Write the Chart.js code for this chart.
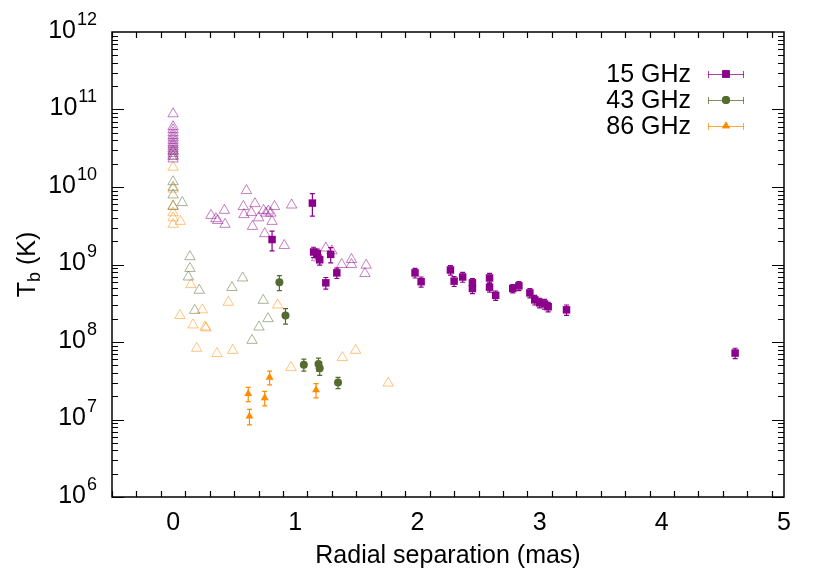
<!DOCTYPE html>
<html>
<head>
<meta charset="utf-8">
<script src="https://cdn.jsdelivr.net/npm/chart.js@4.4.0/dist/chart.umd.min.js"></script>
<style>
html,body{margin:0;padding:0;background:#fff;}
#wrap{width:830px;height:581px;}
</style>
</head>
<body>
<div id="wrap"><canvas id="c" width="830" height="581"></canvas></div>
<script>
// ---- data (x in mas, Tb in K) ----
const x15 = [1.14, 0.81, 1.15, 1.18, 1.20, 1.29, 1.25, 1.34, 1.98, 2.03, 2.27, 2.30, 2.37, 2.45, 2.45, 2.59, 2.59, 2.64, 2.78, 2.83, 2.92, 2.96, 3.00, 3.04, 3.07, 3.22, 4.60];
const y15 = [6.2e9, 2.1e9, 1.45e9, 1.38e9, 1.15e9, 1.35e9, 5.8e8, 7.8e8, 7.8e8, 6.0e8, 8.5e8, 6.1e8, 6.9e8, 5.8e8, 4.9e8, 6.7e8, 5.1e8, 4.0e8, 4.9e8, 5.3e8, 4.3e8, 3.5e8, 3.2e8, 3.1e8, 2.85e8, 2.6e8, 7.2e7];
const e15 = [2.0e9, 6.0e8, 2.2e8, 2.0e8, 1.7e8, 3.0e8, 1.0e8, 1.2e8, 1.1e8, 0.9e8, 1.2e8, 0.9e8, 1.0e8, 0.8e8, 0.7e8, 1.0e8, 0.7e8, 0.55e8, 0.6e8, 0.7e8, 0.6e8, 0.5e8, 0.45e8, 0.45e8, 0.4e8, 0.4e8, 1.1e7];

const x43 = [0.87, 0.92, 1.07, 1.19, 1.20, 1.35];
const y43 = [5.9e8, 2.2e8, 5.1e7, 5.2e7, 4.6e7, 3.0e7];
const e43 = [1.3e8, 0.5e8, 0.9e7, 1.0e7, 0.9e7, 0.5e7];

const x86 = [0.79, 0.615, 0.75, 1.17, 0.625];
const y86 = [3.5e7, 2.15e7, 1.9e7, 2.4e7, 1.1e7];
const e86 = [0.7e7, 0.45e7, 0.4e7, 0.5e7, 0.25e7];

// open triangles (earlier / other measurements)
const xo15 = [0,0,0,0,0,0,0,0,0,0,0,0,0,0,0, 0.31,0.35,0.365,0.42,0.425,0.60,0.575,0.67,0.58,0.64,0.70,0.74,0.76,0.78,0.80,0.83,0.81,0.65,0.75,0.91,0.97,1.25,1.30,1.175,1.38,1.46,1.46,1.58,1.57];
const yo15 = [8.8e10,6.0e10,5.5e10,5.0e10,4.6e10,4.3e10,4.0e10,3.7e10,3.5e10,3.3e10,3.1e10,2.9e10,2.7e10,2.5e10,2.3e10, 4.3e9,3.9e9,3.7e9,5.0e9,3.3e9,9.0e9,5.6e9,6.1e9,4.4e9,4.7e9,4.0e9,5.0e9,4.6e9,4.9e9,4.6e9,5.6e9,3.6e9,3.1e9,2.5e9,1.76e9,5.85e9,1.63e9,1.5e9,1.22e9,1.0e9,1.16e9,1.0e9,9.8e8,7.65e8];

const xo43 = [0,0,0,0,0,0, 0.075,0.138,0.138,0.125,0.214,0.177,0.569,0.482,0.738,0.777,0.703,0.646];
const yo43 = [2.9e10,2.5e10,1.17e10,9.9e9,7.9e9,5.6e9, 6.3e9,1.26e9,8.9e8,6.9e8,4.65e8,2.56e8,6.7e8,5.05e8,3.45e8,2.0e8,1.56e8,1.05e8];

const xo86 = [0,0,0,0,0,0, 0.06,0.146,0.056,0.239,0.163,0.261,0.27,0.452,0.856,0.193,0.359,0.488,0.965,1.385,1.494,1.761];
const yo86 = [1.8e10,9.4e9,5.7e9,4.65e9,4.0e9,3.3e9, 3.6e9,5.5e8,2.2e8,2.6e8,1.66e8,1.56e8,1.52e8,3.25e8,3.0e8,8.3e7,7.1e7,7.8e7,4.7e7,6.3e7,7.8e7,2.95e7];

const xTicks = [0, 1, 2, 3, 4, 5];
const yExps = [6, 7, 8, 9, 10, 11, 12];
const seriesLabels = ['15 GHz', '43 GHz', '86 GHz'];

// ---- styles ----
const C15 = '#8b008b', C43 = '#556b2f', C86 = '#ff8c00';
const L15 = 'rgba(139,0,139,0.5)', L43 = 'rgba(85,107,47,0.5)', L86 = 'rgba(255,140,0,0.5)';
const FONT = '"Liberation Sans", Arial, Helvetica, sans-serif';
const FS = 25, FSS = 18;

function pts(xs, ys, es) {
  return xs.map((x, i) => es ? {x: x, y: ys[i], e: es[i]} : {x: x, y: ys[i]});
}

const datasets = [
  {label: seriesLabels[0], data: pts(x15, y15, e15), pointStyle: 'rect', pointRadius: 5.3, backgroundColor: C15, borderColor: C15, borderWidth: 0, errColor: C15},
  {label: seriesLabels[1], data: pts(x43, y43, e43), pointStyle: 'circle', pointRadius: 4, backgroundColor: C43, borderColor: C43, borderWidth: 0, errColor: C43},
  {label: seriesLabels[2], data: pts(x86, y86, e86), pointStyle: 'triangle', pointRadius: 4.6, backgroundColor: C86, borderColor: C86, borderWidth: 0, errColor: C86},
  {label: 'o15', data: pts(xo15, yo15), pointStyle: 'triangle', pointRadius: 6, backgroundColor: 'rgba(0,0,0,0)', borderColor: L15, borderWidth: 1},
  {label: 'o43', data: pts(xo43, yo43), pointStyle: 'triangle', pointRadius: 6, backgroundColor: 'rgba(0,0,0,0)', borderColor: L43, borderWidth: 1},
  {label: 'o86', data: pts(xo86, yo86), pointStyle: 'triangle', pointRadius: 6, backgroundColor: 'rgba(0,0,0,0)', borderColor: L86, borderWidth: 1}
];
datasets.forEach(d => { d.showLine = false; d.pointHoverRadius = d.pointRadius; });

const errorBars = {
  id: 'errorBars',
  beforeDatasetsDraw(chart) {
    const ctx = chart.ctx, xs = chart.scales.x, ys = chart.scales.y;
    ctx.save();
    chart.data.datasets.forEach(ds => {
      if (!ds.errColor) return;
      ctx.strokeStyle = ds.errColor;
      ctx.lineWidth = 1.2;
      ds.data.forEach(p => {
        const px = xs.getPixelForValue(p.x);
        const top = ys.getPixelForValue(p.y + p.e);
        const bot = ys.getPixelForValue(p.y - p.e);
        ctx.beginPath();
        ctx.moveTo(px, top); ctx.lineTo(px, bot);
        ctx.moveTo(px - 2.5, top); ctx.lineTo(px + 2.5, top);
        ctx.moveTo(px - 2.5, bot); ctx.lineTo(px + 2.5, bot);
        ctx.stroke();
      });
    });
    ctx.restore();
  }
};

const frame = {
  id: 'frame',
  afterDraw(chart) {
    const ctx = chart.ctx, a = chart.chartArea, xs = chart.scales.x, ys = chart.scales.y;
    ctx.save();
    ctx.strokeStyle = '#000';
    ctx.lineWidth = 1.5;
    ctx.strokeRect(a.left, a.top, a.right - a.left, a.bottom - a.top);
    ctx.lineWidth = 1.2;
    const MAJ = 12, MIN = 6;
    ctx.beginPath();
    for (let k = -5; k <= 50; k += 2) {
      const v = k / 10;
      const px = Math.round(xs.getPixelForValue(v)) + 0.5;
      const len = (k % 10 === 0) ? MAJ : MIN;
      ctx.moveTo(px, a.bottom); ctx.lineTo(px, a.bottom - len);
      ctx.moveTo(px, a.top); ctx.lineTo(px, a.top + len);
    }
    for (let e = 6; e < 12; e++) {
      for (let m = 1; m <= 9; m++) {
        const py = Math.round(ys.getPixelForValue(m * Math.pow(10, e))) + 0.5;
        const len = m === 1 ? MAJ : MIN;
        ctx.moveTo(a.left, py); ctx.lineTo(a.left + len, py);
        ctx.moveTo(a.right, py); ctx.lineTo(a.right - len, py);
      }
    }
    ctx.stroke();

    ctx.fillStyle = '#000';
    ctx.font = FS + 'px ' + FONT;
    ctx.textAlign = 'center';
    ctx.textBaseline = 'middle';
    xTicks.forEach(v => ctx.fillText(String(v), xs.getPixelForValue(v), a.bottom + 26));
    yExps.forEach(e => {
      const py = ys.getPixelForValue(Math.pow(10, e));
      ctx.font = FSS + 'px ' + FONT;
      const ew = ctx.measureText(String(e)).width;
      ctx.textAlign = 'left';
      ctx.textBaseline = 'middle';
      const right = a.left - 15;
      ctx.fillText(String(e), right - ew, py - 12);
      ctx.font = FS + 'px ' + FONT;
      ctx.textAlign = 'right';
      ctx.fillText('10', right - ew - 1, py - 1);
    });
    ctx.textAlign = 'center';
    ctx.font = FS + 'px ' + FONT;
    ctx.fillText('Radial separation (mas)', (a.left + a.right) / 2, a.bottom + 59);
    ctx.save();
    ctx.translate(28, (a.top + a.bottom) / 2);
    ctx.rotate(-Math.PI / 2);
    ctx.font = FS + 'px ' + FONT;
    const wT = ctx.measureText('T').width, wK = ctx.measureText(' (K)').width;
    ctx.font = FSS + 'px ' + FONT;
    const wb = ctx.measureText('b').width;
    const tot = wT + wb + wK;
    let cx = -tot / 2;
    ctx.textAlign = 'left';
    ctx.font = FS + 'px ' + FONT;
    ctx.fillText('T', cx, 0); cx += wT;
    ctx.font = FSS + 'px ' + FONT;
    ctx.fillText('b', cx, 7); cx += wb;
    ctx.font = FS + 'px ' + FONT;
    ctx.fillText(' (K)', cx, 0);
    ctx.restore();

    const cols = [C15, C43, C86];
    const styles = ['rect', 'circle', 'triangle'];
    const radii = [5.3, 4, 4.6];
    const rowsY = [74, 100, 126];
    seriesLabels.forEach((lab, i) => {
      const y = rowsY[i];
      ctx.font = FS + 'px ' + FONT;
      ctx.textAlign = 'right';
      ctx.textBaseline = 'middle';
      ctx.fillStyle = '#000';
      ctx.fillText(lab, 691, y + 1);
      ctx.strokeStyle = cols[i];
      ctx.lineWidth = 1;
      ctx.globalAlpha = 0.75;
      ctx.beginPath();
      ctx.moveTo(708, y + 0.5); ctx.lineTo(744, y + 0.5);
      ctx.moveTo(708.5, y - 3); ctx.lineTo(708.5, y + 4);
      ctx.moveTo(743.5, y - 3); ctx.lineTo(743.5, y + 4);
      ctx.stroke();
      ctx.globalAlpha = 1;
      ctx.fillStyle = cols[i];
      Chart.helpers.drawPoint(ctx, {pointStyle: styles[i], radius: radii[i], borderWidth: 0}, 726, y);
      ctx.fill();
    });
    ctx.restore();
  }
};

new Chart(document.getElementById('c'), {
  type: 'scatter',
  data: {datasets: datasets},
  options: {
    responsive: false,
    animation: false,
    devicePixelRatio: 1,
    layout: {padding: {left: 112, right: 46, top: 32, bottom: 84}},
    plugins: {legend: {display: false}, tooltip: {enabled: false}},
    scales: {
      x: {type: 'linear', min: -0.5, max: 5, display: false},
      y: {type: 'logarithmic', min: 1e6, max: 1e12, display: false}
    }
  },
  plugins: [errorBars, frame]
});
</script>
</body>
</html>
